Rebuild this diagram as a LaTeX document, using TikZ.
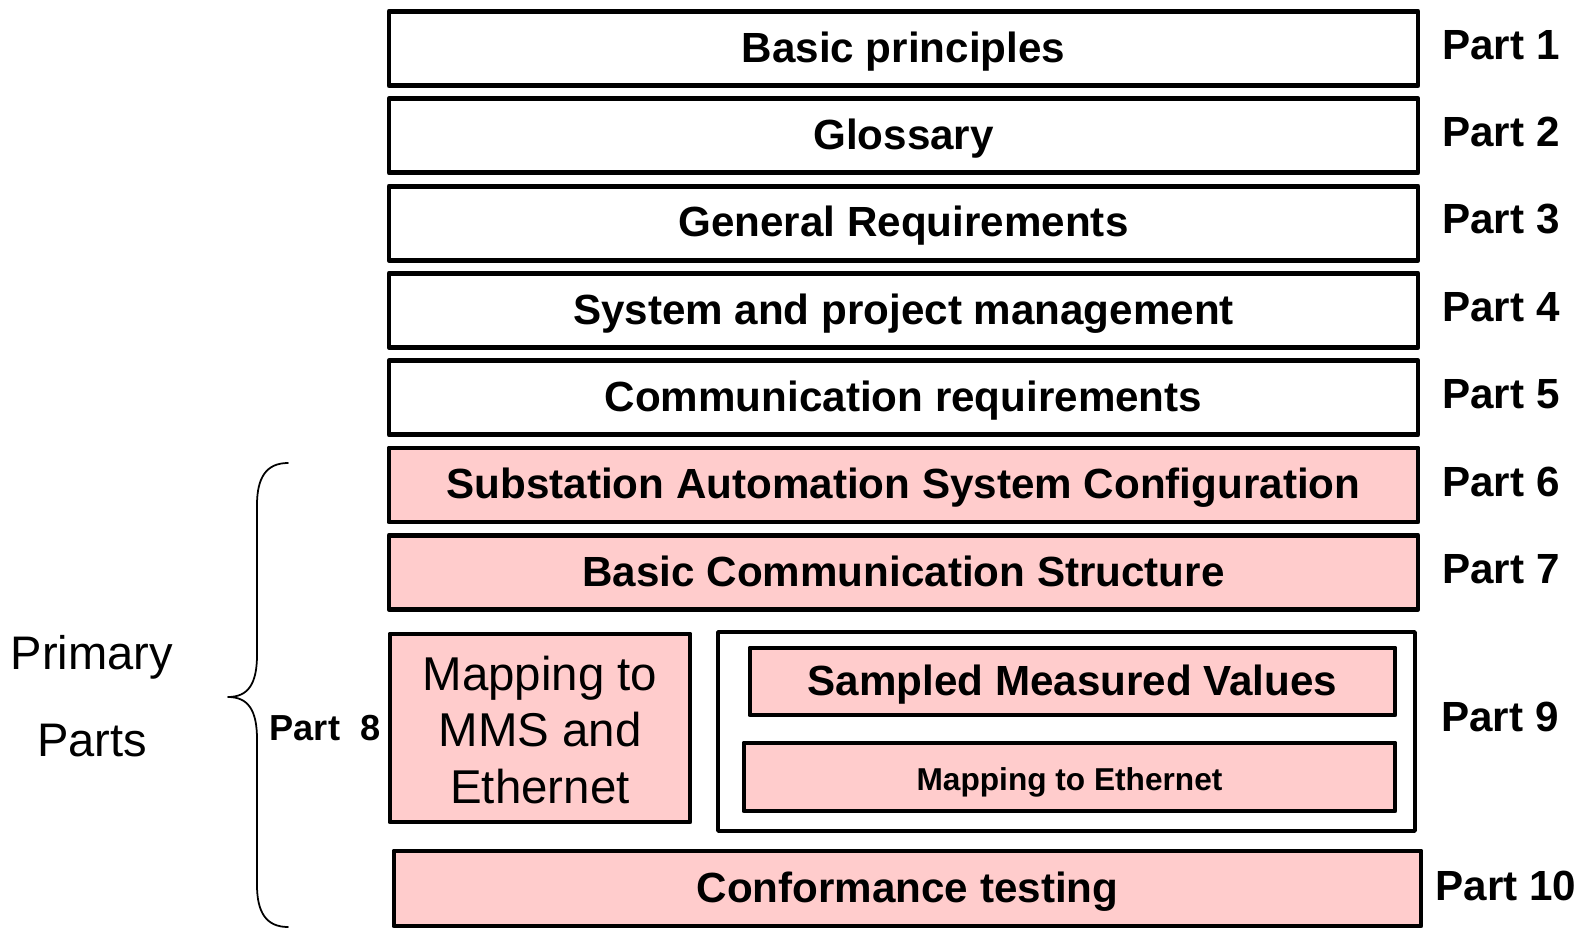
\documentclass[tikz,border=0pt]{standalone}
\usepackage{fontspec}
\setmainfont{Liberation Sans}
\usepackage{tikz}
\usetikzlibrary{positioning,calc}
\definecolor{rosa}{RGB}{255,204,204}
\tikzset{
    partbox/.style={draw=black, line width=1.4pt, inner sep=0pt, align=center,
        font=\bfseries\fontsize{12}{14}\selectfont},
    whitebox/.style={partbox, fill=white, text height=1.0em, text depth=0.21em},
    pinkbox/.style={partbox, fill=rosa, text height=1.0em, text depth=0.21em},
    tallbox/.style={partbox, fill=rosa},
    partlabel/.style={inner sep=0pt, font=\bfseries\fontsize{12}{14}\selectfont}
}

\begin{document}
\begin{tikzpicture}[line cap=round,line join=round,x=0.1mm,y=-0.1mm]
                \useasboundingbox (0,0) rectangle (1583,929);
                % parts 1 to 7
                \node[whitebox, minimum width=102.9mm, minimum height=7.4mm] (p1) at (903.5,48.5) {Basic principles};
                \node[whitebox, minimum width=102.9mm, minimum height=7.4mm] (p2) at (903.5,135.8) {Glossary};
                \node[whitebox, minimum width=102.9mm, minimum height=7.4mm] (p3) at (903.5,223.1) {General Requirements};
                \node[whitebox, minimum width=102.9mm, minimum height=7.4mm] (p4) at (903.5,310.4) {System and project management};
                \node[whitebox, minimum width=102.9mm, minimum height=7.4mm] (p5) at (903.5,397.7) {Communication requirements};
                \node[pinkbox, minimum width=102.9mm, minimum height=7.4mm] (p6) at (903.5,485.0) {Substation Automation System Configuration};
                \node[pinkbox, minimum width=102.9mm, minimum height=7.4mm] (p7) at (903.5,572.3) {Basic Communication Structure};
                % part 8
                \node[tallbox, minimum width=30mm, minimum height=18.8mm,
                      font=\fontsize{13.5}{16.1}\selectfont] (p8) at (540,728) {};
                \node[font=\fontsize{13.5}{16.1}\selectfont, align=center, inner sep=0pt] (p8txt) at (540,730) {Mapping to\\MMS and\\Ethernet};
                % part 9
                \node[draw=black, line width=1pt, fill=white, minimum width=69.7mm, minimum height=19.9mm] (p9) at (1066.5,731.5) {};
                \node[pinkbox, minimum width=64.5mm, minimum height=6.7mm] (smv) at (1072.5,681.5) {Sampled Measured Values};
                \node[pinkbox, minimum width=65.1mm, minimum height=6.8mm,
                      font=\bfseries\fontsize{9}{11}\selectfont] (eth) at (1069.5,777) {Mapping to Ethernet};
                % part 10
                \node[pinkbox, minimum width=102.7mm, minimum height=7.5mm] (p10) at (907.5,888.5) {Conformance testing};
                % labels on the right
                \node[partlabel] (l1) at (1501,45) {Part 1};
                \node[partlabel] (l2) at (1501,132) {Part 2};
                \node[partlabel] (l3) at (1501,219) {Part 3};
                \node[partlabel] (l4) at (1501,307) {Part 4};
                \node[partlabel] (l5) at (1501,394) {Part 5};
                \node[partlabel] (l6) at (1501,482) {Part 6};
                \node[partlabel] (l7) at (1501,569) {Part 7};
                \node[partlabel] (l9) at (1500,717) {Part 9};
                \node[partlabel] (l10) at (1506,886) {Part 10};
                \node[partlabel, font=\bfseries\fontsize{10.3}{12}\selectfont] (l8) at (325,728) {Part\ \ 8};
                % brace
                \draw [line width=0.5pt] (288,463) .. controls (266,463) and (257,478) .. (257,505)
                      -- (257,655) .. controls (257,684) and (248,697) .. (228,697)
                      .. controls (248,697) and (257,710) .. (257,739)
                      -- (257,885) .. controls (257,912) and (266,927) .. (288,927);
                \node[inner sep=0pt, font=\fontsize{13.4}{16}\selectfont] (prim) at (92,657) {Primary};
                \node[inner sep=0pt, font=\fontsize{13.4}{16}\selectfont] (prts) at (92,741) {Parts};
\end{tikzpicture}
\end{document}
